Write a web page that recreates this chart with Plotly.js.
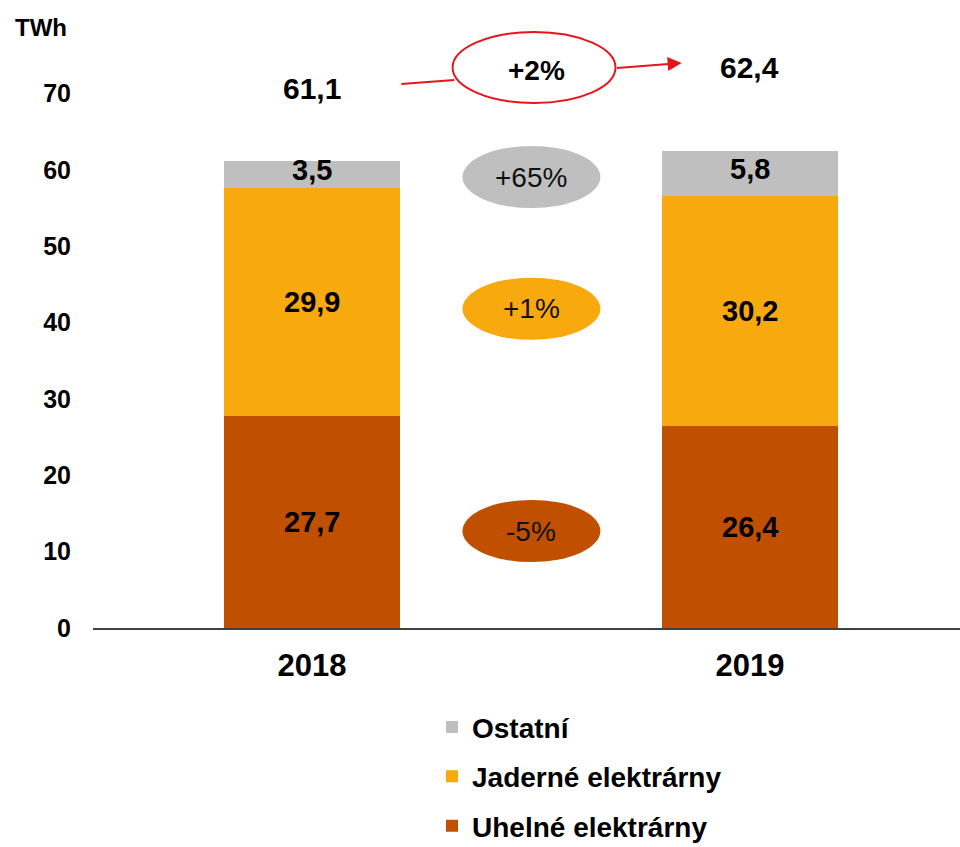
<!DOCTYPE html>
<html>
<head>
<meta charset="utf-8">
<script src="https://cdn.plot.ly/plotly-3.0.1.min.js"></script>
<style>html,body{margin:0;padding:0;background:#fff;}#chart{width:960px;height:847px;}</style>
</head>
<body>
<div id="chart"></div>
<script>
var years = ['2018', '2019'];
var coal = [27.7, 26.4];
var nuclear = [29.9, 30.2];
var other = [3.5, 5.8];
var totals = [61.1, 62.4];
var changeLabels = ['-5%', '+1%', '+65%'];
var totalChange = '+2%';
var seriesNames = ['Uhelné elektrárny', 'Jaderné elektrárny', 'Ostatní'];
var colors = ['#C04F00', '#F7A90E', '#BFBFBF'];

var FONT = 'Liberation Sans, Arial, sans-serif';
var fmt = function(v){ return v.toFixed(1).replace('.', ','); };

var seriesData = [coal, nuclear, other];
var traces = seriesData.map(function(vals, i){
  return {
    type: 'bar', x: [0, 1], y: vals, name: '<b>' + seriesNames[i] + '</b>',
    marker: {color: colors[i]}, width: 0.4,
    legendgroup: 'g' + i, legendrank: 3 - i, hoverinfo: 'skip'
  };
});

var annotations = [];
// segment labels
years.forEach(function(yr, j){
  var base = 0;
  seriesData.forEach(function(vals, i){
    annotations.push({x: j, y: base + vals[j]/2, xref: 'x', yref: 'y', text: '<b>' + fmt(vals[j]) + '</b>',
      yshift: (i === 2 ? 5 : 0),
      showarrow: false, font: {family: FONT, size: 29, color: '#000'}});
    base += vals[j];
  });
});
// totals
annotations.push({x: 0, y: totals[0], yshift: 73, xref: 'x', yref: 'y', text: '<b>' + fmt(totals[0]) + '</b>', showarrow: false, font: {family: FONT, size: 30, color: '#000'}});
annotations.push({x: 1, y: totals[1], yshift: 84, xref: 'x', yref: 'y', text: '<b>' + fmt(totals[1]) + '</b>', showarrow: false, font: {family: FONT, size: 30, color: '#000'}});

// change ellipses
var mid = 0.501;
var ellipseCenters = [12.7, 41.8, 59.05];
var shapes = [];
ellipseCenters.forEach(function(cy, i){
  shapes.push({type: 'circle', xref: 'x', yref: 'y', x0: mid - 0.1575, x1: mid + 0.1575, y0: cy - 4.06, y1: cy + 4.06,
    fillcolor: colors[i], line: {width: 0}, layer: 'above'});
  annotations.push({x: mid, y: cy, xref: 'x', yref: 'y', text: changeLabels[i], showarrow: false,
    font: {family: FONT, size: 28, color: '#111'}});
});
// red ellipse with arrow
shapes.push({type: 'circle', xref: 'x', yref: 'y', x0: 0.321, x1: 0.693, y0: 68.74, y1: 78.04,
  fillcolor: 'rgba(0,0,0,0)', line: {color: '#E8141C', width: 2}});
shapes.push({type: 'line', xref: 'x', yref: 'y', x0: 0.204, y0: 71.23, x1: 0.325, y1: 71.75,
  line: {color: '#E8141C', width: 2}});
annotations.push({x: 0.844, y: 73.98, ax: 0.693, ay: 73.32, xref: 'x', yref: 'y', axref: 'x', ayref: 'y',
  showarrow: true, arrowhead: 2, arrowsize: 1.4, arrowwidth: 2, arrowcolor: '#E8141C', text: ''});
annotations.push({x: 0.512, y: 73.06, xref: 'x', yref: 'y', text: '<b>' + totalChange + '</b>', showarrow: false,
  font: {family: FONT, size: 28, color: '#000'}});
// unit label
annotations.push({x: -0.092, y: 1.0, xref: 'paper', yref: 'paper', xanchor: 'left', yanchor: 'middle', yshift: -10,
  text: '<b>TWh</b>', showarrow: false, font: {family: FONT, size: 24, color: '#000'}});

var layout = {
  width: 960, height: 847,
  margin: {l: 93, r: 0, t: 17, b: 219, autoexpand: false},
  barmode: 'stack',
  paper_bgcolor: '#fff', plot_bgcolor: '#fff',
  showlegend: true,
  legend: {x: 0.391, y: -0.1215, xanchor: 'left', yanchor: 'top', traceorder: 'grouped', tracegroupgap: 10,
    font: {family: FONT, size: 28, color: '#000'}, itemwidth: 30},
  xaxis: {range: [-0.5, 1.4795], tickvals: [0, 1], ticktext: years.map(function(y){return '<b>' + y + '</b>';}),
    showline: true, linecolor: '#404040', linewidth: 1.5, zeroline: false,
    ticks: '', tickfont: {family: FONT, size: 31, color: '#000'}, ticklabelstandoff: 9, showgrid: false, fixedrange: true},
  yaxis: {range: [0, 80], tickvals: [0,10,20,30,40,50,60,70], ticktext: ['<b>0</b>','<b>10</b>','<b>20</b>','<b>30</b>','<b>40</b>','<b>50</b>','<b>60</b>','<b>70</b>'],
    showgrid: false, zeroline: false, showline: false, ticks: '', ticklabelstandoff: 21,
    tickfont: {family: FONT, size: 25, color: '#000'}, fixedrange: true},
  shapes: shapes,
  annotations: annotations
};

Plotly.newPlot('chart', traces, layout, {displayModeBar: false, staticPlot: true});
</script>
</body>
</html>
